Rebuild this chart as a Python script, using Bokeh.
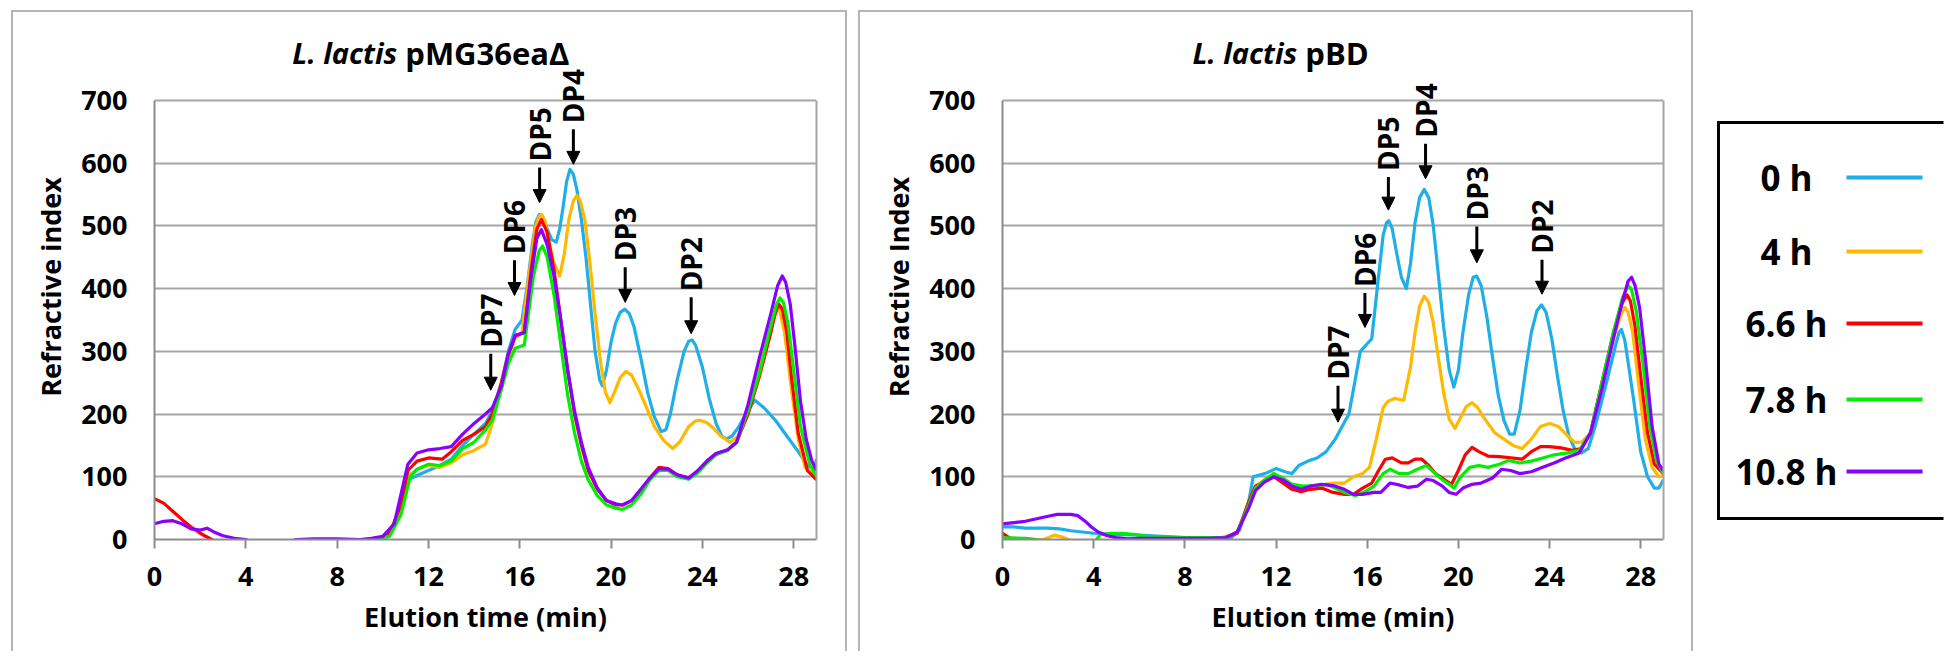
import math
from bokeh.plotting import figure
from bokeh.models import (Range1d, FixedTicker, Label, LabelSet, Arrow, NormalHead,
                          ColumnDataSource, LinearAxis, Spacer)
from bokeh.layouts import row, column
from bokeh.embed import file_html
from bokeh.resources import INLINE
from bokeh.core.properties import value

FONT = "Open Sans"

SERIES = ["0 h", "4 h", "6.6 h", "7.8 h", "10.8 h"]
COLORS = ["#1EAEE8", "#FFB900", "#FF0000", "#00EE00", "#8A00FF"]
X_TICKS = [0, 4, 8, 12, 16, 20, 24, 28]
Y_TICKS = [0, 100, 200, 300, 400, 500, 600, 700]
DP_LABELS = ["DP7", "DP6", "DP5", "DP4", "DP3", "DP2"]

# ---------------- Panel 1: L. lactis pMG36eaΔ  (time min, refractive index) -------------
P1_0H = [(9.0, -5), (9.6, 0), (10.3, 8), (10.8, 45), (11.1, 95), (11.5, 102), (12.0, 110),
         (12.5, 118), (13.0, 128), (13.5, 150), (14.0, 168), (14.5, 185), (14.8, 205),
         (15.2, 250), (15.5, 300), (15.8, 335), (16.1, 350), (16.35, 410), (16.55, 470),
         (16.7, 505), (16.85, 518), (17.0, 515), (17.2, 495), (17.4, 478), (17.6, 474),
         (17.75, 495), (17.9, 530), (18.05, 570), (18.2, 590), (18.35, 582), (18.5, 558),
         (18.7, 510), (18.9, 450), (19.1, 375), (19.3, 300), (19.5, 255), (19.62, 245),
         (19.8, 270), (20.0, 315), (20.2, 345), (20.4, 362), (20.6, 367), (20.8, 360),
         (21.0, 340), (21.3, 290), (21.6, 235), (21.9, 195), (22.2, 172), (22.4, 175),
         (22.6, 200), (22.9, 255), (23.2, 300), (23.4, 316), (23.55, 318), (23.7, 310),
         (24.0, 275), (24.3, 225), (24.6, 185), (24.85, 165), (25.05, 160), (25.3, 165),
         (25.6, 180), (25.9, 200), (26.3, 222), (26.7, 210), (27.2, 190), (27.7, 165),
         (28.2, 140), (28.6, 118), (28.9, 112), (29.0, 128)]
P1_4H = [(9.0, -5), (9.6, 0), (10.3, 8), (10.8, 50), (11.1, 100), (11.5, 112), (12.0, 118),
         (12.5, 115), (13.0, 122), (13.5, 135), (14.0, 142), (14.5, 152), (14.8, 185),
         (15.2, 250), (15.5, 290), (15.8, 320), (16.1, 330), (16.4, 420), (16.7, 500),
         (16.85, 515), (16.95, 518), (17.1, 508), (17.3, 470), (17.5, 440), (17.75, 420),
         (17.95, 455), (18.15, 510), (18.35, 540), (18.5, 548), (18.65, 540), (18.85, 510),
         (19.05, 450), (19.3, 360), (19.55, 280), (19.75, 235), (19.95, 218), (20.15, 235),
         (20.4, 258), (20.65, 268), (20.9, 262), (21.2, 240), (21.5, 215), (21.9, 180),
         (22.3, 158), (22.7, 145), (23.0, 155), (23.4, 180), (23.7, 189), (23.9, 190),
         (24.2, 186), (24.5, 177), (24.8, 165), (25.2, 155), (25.6, 165), (26.1, 220),
         (26.6, 290), (27.1, 350), (27.35, 372), (27.6, 330), (27.9, 240), (28.2, 160),
         (28.5, 115), (29.0, 100)]
P1_66H = [(0.0, 65), (0.4, 58), (0.8, 45), (1.2, 32), (1.6, 20), (2.0, 10), (2.4, 2),
          (2.8, -5), (9.3, -5), (9.8, 0), (10.3, 10), (10.8, 55), (11.1, 110), (11.5, 125),
          (12.0, 130), (12.6, 128), (13.0, 140), (13.5, 158), (14.0, 168), (14.5, 180),
          (14.8, 200), (15.2, 250), (15.5, 295), (15.8, 325), (16.2, 330), (16.5, 430),
          (16.75, 495), (16.95, 510), (17.2, 490), (17.5, 430), (17.8, 350), (18.1, 270),
          (18.4, 200), (18.7, 150), (19.0, 110), (19.4, 80), (19.8, 62), (20.2, 55),
          (20.5, 55), (20.9, 62), (21.3, 78), (21.7, 98), (22.1, 115), (22.5, 113),
          (22.9, 103), (23.4, 98), (23.8, 108), (24.2, 125), (24.6, 137), (25.1, 142),
          (25.5, 155), (26.0, 200), (26.5, 260), (27.0, 330), (27.2, 362), (27.35, 375),
          (27.5, 368), (27.7, 330), (27.9, 260), (28.2, 170), (28.6, 110), (29.0, 95)]
P1_78H = [(5.9, -5), (6.3, 0), (9.6, 0), (10.3, 5), (10.8, 40), (11.2, 100), (11.5, 112),
          (12.0, 120), (12.5, 118), (13.0, 125), (13.5, 145), (14.0, 155), (14.5, 175),
          (14.8, 190), (15.2, 240), (15.5, 280), (15.8, 305), (16.2, 310), (16.6, 420),
          (16.85, 460), (17.0, 468), (17.2, 450), (17.5, 390), (17.8, 310), (18.1, 230),
          (18.4, 170), (18.7, 125), (19.0, 95), (19.4, 70), (19.8, 55), (20.2, 50),
          (20.5, 48), (20.9, 55), (21.3, 72), (21.7, 95), (22.1, 110), (22.5, 110),
          (22.9, 100), (23.4, 96), (23.8, 106), (24.2, 122), (24.6, 135), (25.1, 142),
          (25.5, 155), (26.0, 205), (26.5, 265), (27.0, 340), (27.25, 375), (27.4, 385),
          (27.55, 378), (27.75, 345), (28.0, 270), (28.3, 180), (28.7, 120), (29.0, 100)]
P1_108H = [(0.0, 25), (0.4, 29), (0.8, 30), (1.2, 25), (1.6, 17), (2.0, 15), (2.3, 18),
           (2.6, 12), (3.0, 6), (3.5, 2), (4.0, 0), (4.3, -5), (5.8, -5), (6.2, 0), (7.0, 1),
           (8.0, 1), (9.0, 0), (9.5, 2), (10.0, 5), (10.5, 25), (11.1, 120), (11.5, 138),
           (12.0, 143), (12.5, 145), (13.0, 148), (13.5, 168), (14.0, 185), (14.5, 200),
           (14.8, 210), (15.2, 245), (15.5, 295), (15.8, 325), (16.2, 330), (16.5, 420),
           (16.75, 480), (16.95, 494), (17.2, 470), (17.5, 420), (17.8, 350), (18.1, 270),
           (18.4, 205), (18.7, 155), (19.0, 115), (19.4, 82), (19.8, 62), (20.2, 57),
           (20.5, 55), (20.9, 62), (21.3, 80), (21.7, 98), (22.1, 113), (22.5, 112),
           (22.9, 103), (23.4, 98), (23.8, 110), (24.2, 125), (24.6, 137), (25.1, 143),
           (25.5, 155), (26.0, 215), (26.5, 290), (27.0, 360), (27.3, 405), (27.5, 420),
           (27.65, 410), (27.85, 375), (28.05, 310), (28.3, 220), (28.55, 160), (28.8, 125),
           (29.0, 110)]

# ---------------- Panel 2: L. lactis pBD ----------------
P2_0H = [(0.0, 20), (0.5, 20), (1.0, 18), (1.5, 18), (2.0, 18), (2.5, 17), (3.0, 14),
         (3.5, 12), (4.0, 10), (5.0, 8), (6.0, 7), (7.0, 5), (8.0, 3), (9.0, 2), (10.0, 2),
         (10.4, 15), (10.8, 60), (11.0, 100), (11.5, 105), (12.0, 113), (12.4, 108),
         (12.7, 105), (13.0, 118), (13.4, 125), (13.8, 130), (14.2, 140), (14.6, 160),
         (14.9, 180), (15.2, 200), (15.45, 250), (15.7, 300), (16.0, 312), (16.2, 320),
         (16.5, 420), (16.7, 485), (16.85, 505), (16.95, 508), (17.1, 495), (17.3, 455),
         (17.5, 418), (17.72, 400), (17.9, 440), (18.1, 505), (18.3, 545), (18.5, 558),
         (18.7, 545), (18.9, 500), (19.1, 430), (19.35, 340), (19.6, 270), (19.8, 243),
         (20.0, 270), (20.2, 330), (20.45, 390), (20.65, 418), (20.8, 420), (21.0, 405),
         (21.25, 355), (21.5, 290), (21.75, 230), (22.0, 190), (22.25, 168), (22.45, 168),
         (22.7, 205), (22.95, 270), (23.2, 330), (23.45, 365), (23.65, 374), (23.85, 362),
         (24.1, 320), (24.35, 260), (24.6, 205), (24.85, 165), (25.1, 145), (25.4, 138),
         (25.7, 145), (26.0, 180), (26.5, 250), (26.9, 310), (27.05, 330), (27.15, 335),
         (27.3, 318), (27.5, 270), (27.7, 220), (28.0, 140), (28.3, 100), (28.6, 82),
         (28.8, 82), (29.0, 95)]
P2_4H = [(0.0, 3), (1.0, 0), (1.8, 0), (2.3, 7), (2.7, 3), (3.2, -5), (5.5, -5), (5.8, 2),
         (6.5, 2), (9.5, 2), (10.3, 10), (10.8, 60), (11.1, 85), (11.5, 95), (11.9, 105),
         (12.3, 95), (12.8, 85), (13.3, 82), (13.8, 85), (14.2, 88), (14.5, 90), (15.0, 90),
         (15.4, 100), (15.8, 105), (16.1, 115), (16.4, 160), (16.7, 210), (16.9, 220),
         (17.2, 225), (17.6, 222), (17.9, 275), (18.1, 330), (18.3, 372), (18.5, 388),
         (18.7, 378), (18.9, 345), (19.1, 295), (19.35, 235), (19.6, 192), (19.85, 177),
         (20.1, 195), (20.35, 212), (20.6, 218), (20.85, 210), (21.1, 195), (21.6, 170),
         (22.0, 160), (22.4, 150), (22.8, 145), (23.2, 160), (23.6, 180), (24.0, 185),
         (24.4, 180), (24.8, 165), (25.1, 155), (25.4, 155), (25.8, 170), (26.3, 250),
         (26.8, 320), (27.15, 360), (27.3, 370), (27.45, 362), (27.65, 330), (27.9, 250),
         (28.2, 160), (28.5, 115), (28.8, 100), (29.0, 102)]
P2_66H = [(0.0, 10), (0.2, 5), (0.4, 0), (0.6, -5), (7.5, -5), (7.8, 0), (9.5, 0),
          (10.3, 10), (10.8, 60), (11.1, 85), (11.5, 92), (11.9, 100), (12.3, 90),
          (12.7, 80), (13.1, 76), (13.5, 80), (14.0, 82), (14.5, 75), (15.0, 72), (15.4, 72),
          (15.8, 82), (16.2, 90), (16.5, 110), (16.8, 128), (17.1, 130), (17.5, 122),
          (17.8, 122), (18.1, 128), (18.4, 128), (18.7, 118), (19.0, 105), (19.4, 95),
          (19.7, 88), (20.0, 110), (20.3, 135), (20.6, 147), (20.9, 140), (21.3, 133),
          (21.8, 132), (22.3, 130), (22.8, 128), (23.2, 140), (23.6, 148), (24.0, 148),
          (24.5, 146), (25.0, 142), (25.4, 145), (25.8, 170), (26.3, 250), (26.8, 330),
          (27.2, 378), (27.4, 390), (27.55, 380), (27.75, 340), (28.0, 260), (28.3, 170),
          (28.6, 120), (29.0, 105)]
P2_78H = [(0.0, 3), (1.0, 2), (1.5, 0), (1.8, -5), (4.0, -5), (4.3, 8), (4.8, 10), (5.3, 10),
          (5.8, 8), (6.3, 5), (7.0, 4), (8.0, 3), (9.0, 3), (9.8, 3), (10.3, 12), (10.8, 55),
          (11.1, 82), (11.5, 95), (11.9, 105), (12.3, 98), (12.7, 88), (13.2, 85),
          (13.7, 86), (14.2, 88), (14.6, 82), (15.0, 75), (15.5, 70), (15.9, 76), (16.3, 85),
          (16.7, 105), (17.0, 112), (17.4, 105), (17.8, 105), (18.2, 112), (18.6, 118),
          (18.9, 108), (19.3, 95), (19.6, 88), (19.8, 82), (20.1, 100), (20.5, 115),
          (20.9, 118), (21.3, 115), (21.8, 120), (22.2, 126), (22.7, 122), (23.2, 125),
          (23.7, 130), (24.2, 135), (24.8, 138), (25.3, 142), (25.8, 170), (26.3, 250),
          (26.8, 330), (27.2, 385), (27.45, 405), (27.6, 398), (27.8, 365), (28.1, 280),
          (28.4, 180), (28.7, 125), (29.0, 105)]
P2_108H = [(0.0, 25), (0.5, 27), (1.0, 29), (1.5, 33), (2.0, 37), (2.4, 40), (3.0, 40),
           (3.3, 38), (3.6, 30), (3.9, 20), (4.2, 12), (4.6, 6), (5.0, 3), (5.5, 1), (6.0, 2),
           (7.0, 2), (8.0, 2), (9.0, 2), (9.8, 3), (10.3, 12), (10.8, 50), (11.1, 78),
           (11.5, 92), (11.9, 100), (12.3, 95), (12.7, 85), (13.1, 80), (13.5, 85),
           (14.0, 88), (14.5, 86), (15.0, 80), (15.4, 72), (15.8, 72), (16.3, 75),
           (16.6, 75), (17.0, 90), (17.4, 87), (17.8, 83), (18.2, 85), (18.6, 96),
           (18.9, 94), (19.3, 85), (19.6, 75), (19.9, 72), (20.2, 82), (20.6, 88),
           (21.0, 90), (21.5, 98), (21.9, 112), (22.3, 110), (22.7, 105), (23.2, 108),
           (23.7, 115), (24.2, 122), (24.7, 130), (25.3, 138), (25.8, 170), (26.3, 240),
           (26.8, 320), (27.2, 380), (27.45, 412), (27.6, 418), (27.75, 405), (27.95, 370),
           (28.2, 290), (28.5, 180), (28.8, 120), (29.0, 110)]

# DP arrow annotations: x (min), arrow tail value, arrow tip value
P1_DP_X = [14.73, 15.77, 16.87, 18.35, 20.62, 23.51]
P1_DP_TAIL = [296, 445, 593, 654, 434, 386]
P1_DP_TIP = [238, 389, 537, 598, 378, 328]
P2_DP_X = [14.72, 15.90, 16.93, 18.56, 20.81, 23.67]
P2_DP_TAIL = [245, 393, 578, 631, 499, 446]
P2_DP_TIP = [187, 338, 525, 575, 441, 391]

GRID = "#a6a6a6"
AXIS = "#8c8c8c"

FIG_H = 641
MB_TOP = 20
MB_BOTTOM = 114
Y_TOP = 805          # room above the 700 line for the title and the DP4 label


def make_panel(width, title_it, title_rest, title_x, title_y, ylabel, series,
               dp_x, dp_tail, dp_tip, mb_left, mb_right):
    p = figure(width=width, height=FIG_H, output_backend="svg", toolbar_location=None,
               x_range=Range1d(0, 29), y_range=Range1d(0, Y_TOP),
               min_border_left=mb_left, min_border_right=mb_right,
               min_border_top=MB_TOP, min_border_bottom=MB_BOTTOM,
               background_fill_color="white", border_fill_color="white",
               styles={"border": "2px solid #b4b4b4", "border-bottom": "none",
                       "box-sizing": "border-box"})
    p.title.visible = False
    p.outline_line_color = None
    p.xgrid.visible = False
    p.ygrid.grid_line_color = GRID
    p.ygrid.grid_line_width = 2
    p.ygrid.ticker = FixedTicker(ticks=Y_TICKS)

    p.xaxis.ticker = FixedTicker(ticks=X_TICKS)
    p.yaxis.ticker = FixedTicker(ticks=Y_TICKS)
    p.yaxis.bounds = (0, 700)
    for ax in (p.xaxis[0], p.yaxis[0]):
        ax.axis_line_color = AXIS
        ax.axis_line_width = 2
        ax.major_tick_line_color = AXIS
        ax.major_tick_line_width = 2
        ax.minor_tick_line_color = None
        ax.major_tick_in = 0
        ax.major_label_text_font = FONT
        ax.major_label_text_font_style = "bold"
        ax.major_label_text_font_size = "27px"
        ax.major_label_text_color = "black"
        ax.axis_label_text_font = FONT
        ax.axis_label_text_font_style = "bold"
        ax.axis_label_text_font_size = "27px"
        ax.axis_label_text_color = "black"
    p.xaxis.major_tick_out = 9
    p.yaxis.major_tick_out = 0
    p.xaxis.major_label_standoff = 18
    p.yaxis.major_label_standoff = 27
    p.xaxis.axis_label = "Elution time (min)"
    p.yaxis.axis_label = ylabel
    p.xaxis.axis_label_standoff = 9
    p.yaxis.axis_label_standoff = 9

    # right edge of the plot area (an axis line only)
    rax = LinearAxis(ticker=FixedTicker(ticks=[]), bounds=(0, 700), axis_line_color=GRID,
                     axis_line_width=2, major_tick_line_color=None,
                     minor_tick_line_color=None, major_label_text_font_size="0px")
    p.add_layout(rax, "right")

    for pts, col in zip(series, COLORS):
        src = ColumnDataSource(dict(t=[a for a, _ in pts], v=[b for _, b in pts]))
        p.line("t", "v", source=src, line_color=col, line_width=3.2, line_join="round")

    arr_src = ColumnDataSource(dict(x=dp_x, tail=dp_tail, tip=dp_tip, label=DP_LABELS))
    p.add_layout(Arrow(end=NormalHead(size=13, fill_color="black", line_color="black",
                                      line_width=1),
                       x_start="x", y_start="tail", x_end="x", y_end="tip",
                       line_width=3, line_color="black", source=arr_src))
    p.add_layout(LabelSet(x="x", y="tail", text="label", source=arr_src, angle=math.pi / 2,
                          text_align="left", text_baseline="middle", y_offset=6,
                          text_font=value(FONT), text_font_style="bold",
                          text_font_size="28px", text_color="black"))

    p.add_layout(Label(x=title_x, y=title_y, text=title_it, text_align="right",
                       text_baseline="middle", x_offset=-4, text_font=FONT,
                       text_font_style="bold italic", text_font_size="29px",
                       text_color="black"))
    p.add_layout(Label(x=title_x, y=title_y, text=title_rest, text_align="left",
                       text_baseline="middle", x_offset=4, text_font=FONT,
                       text_font_style="bold", text_font_size="31px", text_color="black"))
    return p


p1 = make_panel(836, "L. lactis", "pMG36eaΔ", 10.81, 776, "Refractive index",
                [P1_0H, P1_4H, P1_66H, P1_78H, P1_108H],
                P1_DP_X, P1_DP_TAIL, P1_DP_TIP, 141, 33)
p2 = make_panel(835, "L. lactis", "pBD", 13.11, 776, "Refractive Index",
                [P2_0H, P2_4H, P2_66H, P2_78H, P2_108H],
                P2_DP_X, P2_DP_TAIL, P2_DP_TIP, 142, 32)

# ---------------- legend panel (coordinates in page pixels) ----------------
LEG_Y = [177, 251, 323, 399, 471]
leg = figure(width=246, height=FIG_H, output_backend="svg", toolbar_location=None,
             x_range=Range1d(1708, 1944), y_range=Range1d(537, 32),
             min_border_left=10, min_border_right=0, min_border_top=MB_TOP + 2,
             min_border_bottom=MB_BOTTOM, background_fill_color="white",
             border_fill_color="white")
leg.title.visible = False
leg.axis.visible = False
leg.grid.visible = False
leg.outline_line_color = None
# legend frame: open on the right, it runs past the edge of the window
leg.line(x=[1943, 1718, 1718, 1943], y=[122, 122, 518, 518], line_color="black",
         line_width=3, line_join="miter")
leg_src = ColumnDataSource(dict(y=LEG_Y, label=SERIES, color=COLORS,
                                tx=[1786] * len(SERIES), x0=[1846] * len(SERIES),
                                x1=[1922] * len(SERIES)))
leg.text(x="tx", y="y", text="label", source=leg_src, text_align="center",
         text_baseline="middle", text_font=value(FONT), text_font_style="bold",
         text_font_size="35px", text_color="black")
leg.segment(x0="x0", y0="y", x1="x1", y1="y", source=leg_src, line_color="color",
            line_width=4)

layout = column(Spacer(height=10),
                row(Spacer(width=6), p1, Spacer(width=1), p2, leg, spacing=5))
open("out.html", "w").write(file_html(layout, INLINE))
